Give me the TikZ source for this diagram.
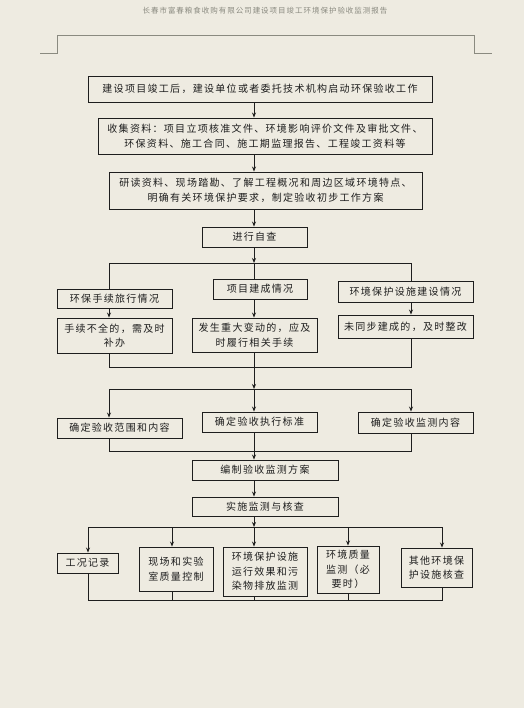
\documentclass[tikz,border=0pt]{standalone}
\usepackage{fontspec}
\setmainfont{Noto Sans CJK SC}[LetterSpace=13]
\usetikzlibrary{arrows.meta}
\definecolor{bg}{HTML}{EEEBE1}
\definecolor{ln}{HTML}{1E1E1E}
\definecolor{hd}{HTML}{8A8A80}
\tikzset{
  box/.style={draw=ln, line width=0.9pt, inner sep=0pt, align=center, text=ln,
    font=\fontsize{10}{14.5}\selectfont},
  conn/.style={draw=ln, line width=0.9pt},
  arr/.style={conn, -{Stealth[length=5pt,width=4pt]}},
  hdr/.style={draw=hd, line width=0.9pt}
}
\begin{document}
\begin{tikzpicture}[x=1pt,y=-1pt]
\fill[bg] (0,0) rectangle (524,708);
\useasboundingbox (0,0) rectangle (524,708);
% header
\node[text=hd, font=\fontsize{7.5}{8}\selectfont] (title) at (265,11) {长春市富春粮食收购有限公司建设项目竣工环境保护验收监测报告};
\draw[hdr] (40,53) -- (57,53) -- (57,35) -- (474,35) -- (474,53) -- (492,53);
% main column
\node[box, minimum width=344pt, minimum height=26pt] (b1) at (260,89) {建设项目竣工后，建设单位或者委托技术机构启动环保验收工作};
\node[box, minimum width=334pt, minimum height=36pt] (b2) at (265,136) {收集资料：项目立项核准文件、环境影响评价文件及审批文件、\\环保资料、施工合同、施工期监理报告、工程竣工资料等};
\node[box, minimum width=313pt, minimum height=37pt] (b3) at (265.5,190.5) {研读资料、现场踏勘、了解工程概况和周边区域环境特点、\\明确有关环境保护要求，制定验收初步工作方案};
\node[box, minimum width=105pt, minimum height=20pt] (b4) at (254.5,237) {进行自查};
% row c
\node[box, minimum width=115pt, minimum height=19pt] (c1) at (114.5,298.5) {环保手续旅行情况};
\node[box, minimum width=94pt, minimum height=20pt] (c2) at (260,289) {项目建成情况};
\node[box, minimum width=135pt, minimum height=21pt] (c3) at (405.5,291.5) {环境保护设施建设情况};
% row d
\node[box, minimum width=115pt, minimum height=35pt] (d1) at (114.5,335.5) {手续不全的，需及时\\补办};
\node[box, minimum width=125pt, minimum height=34pt] (d2) at (254.5,335) {发生重大变动的，应及\\时履行相关手续};
\node[box, minimum width=135pt, minimum height=23pt] (d3) at (405.5,326.5) {未同步建成的，及时整改};
% row e
\node[box, minimum width=125pt, minimum height=20pt] (e1) at (119.5,428) {确定验收范围和内容};
\node[box, minimum width=115pt, minimum height=20pt] (e2) at (259.5,422) {确定验收执行标准};
\node[box, minimum width=115pt, minimum height=21pt] (e3) at (415.5,422.5) {确定验收监测内容};
% f, g
\node[box, minimum width=146pt, minimum height=20pt] (f) at (265,470) {编制验收监测方案};
\node[box, minimum width=146pt, minimum height=19pt] (g) at (265,506.5) {实施监测与核查};
% row h
\node[box, minimum width=61pt, minimum height=20pt] (h1) at (87.5,563) {工况记录};
\node[box, minimum width=74pt, minimum height=44pt] (h2) at (176,569) {现场和实验\\室质量控制};
\node[box, minimum width=84pt, minimum height=49pt] (h3) at (265,571.5) {环境保护设施\\运行效果和污\\染物排放监测};
\node[box, minimum width=62pt, minimum height=47pt] (h4) at (348,569.5) {环境质量\\监测（必\\要时）};
\node[box, minimum width=71pt, minimum height=39pt] (h5) at (436.5,567.5) {其他环境保\\护设施核查};
% coordinates
\coordinate (cx) at (254,0);
\coordinate (xl) at (109,0);
\coordinate (xr) at (411,0);
\coordinate (j1) at (254,263);
\coordinate (j1l) at (109,263);
\coordinate (j1r) at (411,263);
\coordinate (j2) at (254,367);
\coordinate (j2l) at (109,367);
\coordinate (j2r) at (411,367);
\coordinate (j3) at (254,389);
\coordinate (j3l) at (109,389);
\coordinate (j3r) at (411,389);
\coordinate (j4) at (254,451);
\coordinate (j4l) at (109,451);
\coordinate (j4r) at (411,451);
\coordinate (k1) at (88,527);
\coordinate (k2) at (172,527);
\coordinate (k3) at (254,527);
\coordinate (k4) at (348,527);
\coordinate (k5) at (442,527);
\coordinate (m1) at (88,600);
\coordinate (m2) at (172,600);
\coordinate (m3) at (254,600);
\coordinate (m4) at (348,600);
\coordinate (m5) at (442,600);
% connectors
\draw[arr] (b1.south -| cx) -- (b2.north -| cx);
\draw[arr] (b2.south -| cx) -- (b3.north -| cx);
\draw[arr] (b3.south -| cx) -- (b4.north -| cx);
\draw[arr] (b4.south -| cx) -- (j1);
\draw[conn] (j1l) -- (j1r);
\draw[conn] (j1l) -- (c1.north -| xl);
\draw[conn] (j1) -- (c2.north -| cx);
\draw[conn] (j1r) -- (c3.north -| xr);
\draw[arr] (c1.south -| xl) -- (d1.north -| xl);
\draw[arr] (c2.south -| cx) -- (d2.north -| cx);
\draw[arr] (c3.south -| xr) -- (d3.north -| xr);
\draw[conn] (d1.south -| xl) -- (j2l) -- (j2r) -- (d3.south -| xr);
\draw[conn] (d2.south -| cx) -- (j2);
\draw[arr] (j2) -- (j3);
\draw[conn] (j3l) -- (j3r);
\draw[arr] (j3l) -- (e1.north -| xl);
\draw[arr] (j3) -- (e2.north -| cx);
\draw[arr] (j3r) -- (e3.north -| xr);
\draw[conn] (e1.south -| xl) -- (j4l) -- (j4r) -- (e3.south -| xr);
\draw[conn] (e2.south -| cx) -- (j4);
\draw[arr] (j4) -- (f.north -| cx);
\draw[arr] (f.south -| cx) -- (g.north -| cx);
\draw[arr] (g.south -| cx) -- (k3);
\draw[conn] (k1) -- (k5);
\draw[arr] (k1) -- (h1.north -| k1);
\draw[arr] (k2) -- (h2.north -| k2);
\draw[arr] (k3) -- (h3.north -| k3);
\draw[arr] (k4) -- (h4.north -| k4);
\draw[arr] (k5) -- (h5.north -| k5);
\draw[conn] (h1.south -| m1) -- (m1) -- (m5) -- (h5.south -| m5);
\draw[conn] (h2.south -| m2) -- (m2);
\draw[conn] (h3.south -| m3) -- (m3);
\draw[conn] (h4.south -| m4) -- (m4);
\end{tikzpicture}
\end{document}
